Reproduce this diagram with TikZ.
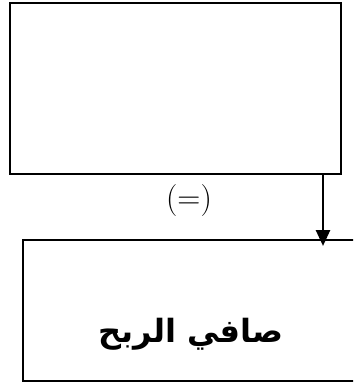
\documentclass[tikz,border=0pt]{standalone}
\usepackage{fontspec}
\newfontfamily\arabicfont[Script=Arabic]{DejaVu Sans}
\TeXXeTstate=1
\usetikzlibrary{positioning,calc}
\usetikzlibrary{arrows.meta}
\tikzset{
  box/.style={draw=black,line width=2.8pt,rectangle,inner sep=0pt},
  flow/.style={draw=black,line width=2.6pt,-{Triangle[length=16pt,width=14pt]}},
}
\begin{document}
\begin{tikzpicture}[x=1pt,y=-1pt]
\useasboundingbox (0,0) rectangle (353,387);
\clip (0,0) rectangle (353,387);
\node[box,minimum width=331pt,minimum height=171pt] (upper) at (175.5,88.5) {};
\node[box,minimum width=377pt,minimum height=141pt] (profit) at (211.5,310.5) {};
\node[font=\fontsize{32}{38}\selectfont,inner sep=0pt] (eq) at (189,201) {(=)};
\node[font=\fontsize{32}{38}\selectfont\bfseries,inner sep=0pt] (name) at (191,334) {\arabicfont\beginR صافي الربح\endR};
\coordinate (tip) at (323,246);
\draw[flow] (upper.south -| tip) -- (tip);
\end{tikzpicture}
\end{document}
